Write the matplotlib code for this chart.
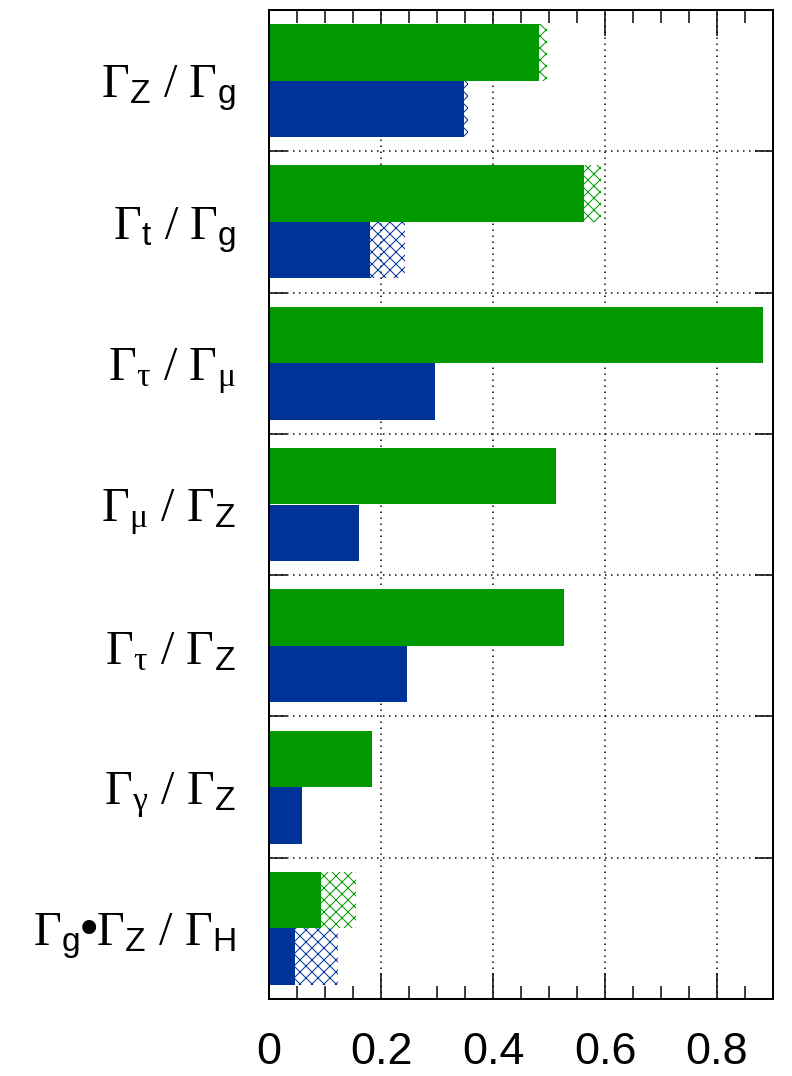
import numpy as np
import matplotlib
matplotlib.use("Agg")
import matplotlib.pyplot as plt
from matplotlib.ticker import MultipleLocator, FixedLocator

plt.rcParams['mathtext.fontset'] = 'custom'
plt.rcParams['mathtext.rm'] = 'Liberation Serif'
plt.rcParams['mathtext.it'] = 'Liberation Serif'
plt.rcParams['mathtext.sf'] = 'Liberation Sans'
plt.rcParams['hatch.linewidth'] = 1.0

labels = [r'$\Gamma_{\mathsf{Z}}\ /\ \Gamma_{\mathsf{g}}$',
          r'$\Gamma_{\mathsf{t}}\ /\ \Gamma_{\mathsf{g}}$',
          r'$\Gamma_{\tau}\ /\ \Gamma_{\mu}$',
          r'$\Gamma_{\mu}\ /\ \Gamma_{\mathsf{Z}}$',
          r'$\Gamma_{\tau}\ /\ \Gamma_{\mathsf{Z}}$',
          r'$\Gamma_{\gamma}\ /\ \Gamma_{\mathsf{Z}}$',
          r'$\Gamma_{\mathsf{g}}\!$•$\!\Gamma_{\mathsf{Z}}\ /\ \Gamma_{\mathsf{H}}$']

# solid part and total (solid + hatched) for each series
green_solid = [0.482, 0.5625, 0.882, 0.512, 0.526, 0.184, 0.092]
green_total = [0.497, 0.592, 0.882, 0.512, 0.526, 0.184, 0.156]
blue_solid = [0.348, 0.180, 0.296, 0.161, 0.246, 0.059, 0.046]
blue_total = [0.356, 0.243, 0.296, 0.161, 0.246, 0.059, 0.124]
xtick_labels = ['0', '0.2', '0.4', '0.6', '0.8']

green = '#009900'
blue = '#003399'

fig = plt.figure(figsize=(11, 1076 / 72), dpi=72)
ax = fig.add_axes([269 / 792, 77 / 1076, 504 / 792, 989 / 1076])

y = np.arange(len(labels))
gs = np.array(green_solid)
gt = np.array(green_total)
bs = np.array(blue_solid)
bt = np.array(blue_total)

ax.barh(y - 0.2, gs, height=0.4, color=green, lw=0, zorder=2)
ax.barh(y - 0.2, gt - gs, left=gs, height=0.4, facecolor='none',
        edgecolor=green, hatch='xx', lw=0, zorder=2)
ax.barh(y + 0.2, bs, height=0.4, color=blue, lw=0, zorder=2)
ax.barh(y + 0.2, bt - bs, left=bs, height=0.4, facecolor='none',
        edgecolor=blue, hatch='xx', lw=0, zorder=2)

ax.set_xlim(0, 0.9)
ax.set_ylim(len(labels) - 0.5, -0.5)

ax.xaxis.set_major_locator(FixedLocator([0, 0.2, 0.4, 0.6, 0.8]))
ax.xaxis.set_minor_locator(MultipleLocator(0.05))
ax.set_xticklabels(xtick_labels, fontfamily='Liberation Sans')
ax.yaxis.set_major_locator(FixedLocator(np.arange(len(labels) + 1) - 0.5))
ax.yaxis.set_minor_locator(FixedLocator(y))
ax.yaxis.set_major_formatter(plt.NullFormatter())
ax.yaxis.set_minor_formatter(plt.FixedFormatter(labels))

ax.tick_params(axis='x', which='major', direction='in', length=26, width=1.5,
               top=True, bottom=True, labelsize=45, pad=33)
ax.tick_params(axis='x', which='minor', direction='in', length=13, width=1.5,
               top=True, bottom=True)
ax.tick_params(axis='y', which='major', direction='in', length=18, width=1.5,
               left=True, right=True)
ax.tick_params(axis='y', which='minor', length=0, labelsize=48, pad=33)

ax.grid(True, which='major', linestyle=(0, (1, 3)), color='black', lw=1.5, zorder=1)
ax.set_axisbelow(True)
for s in ax.spines.values():
    s.set_linewidth(2)

fig.savefig('out.png', dpi=72)
